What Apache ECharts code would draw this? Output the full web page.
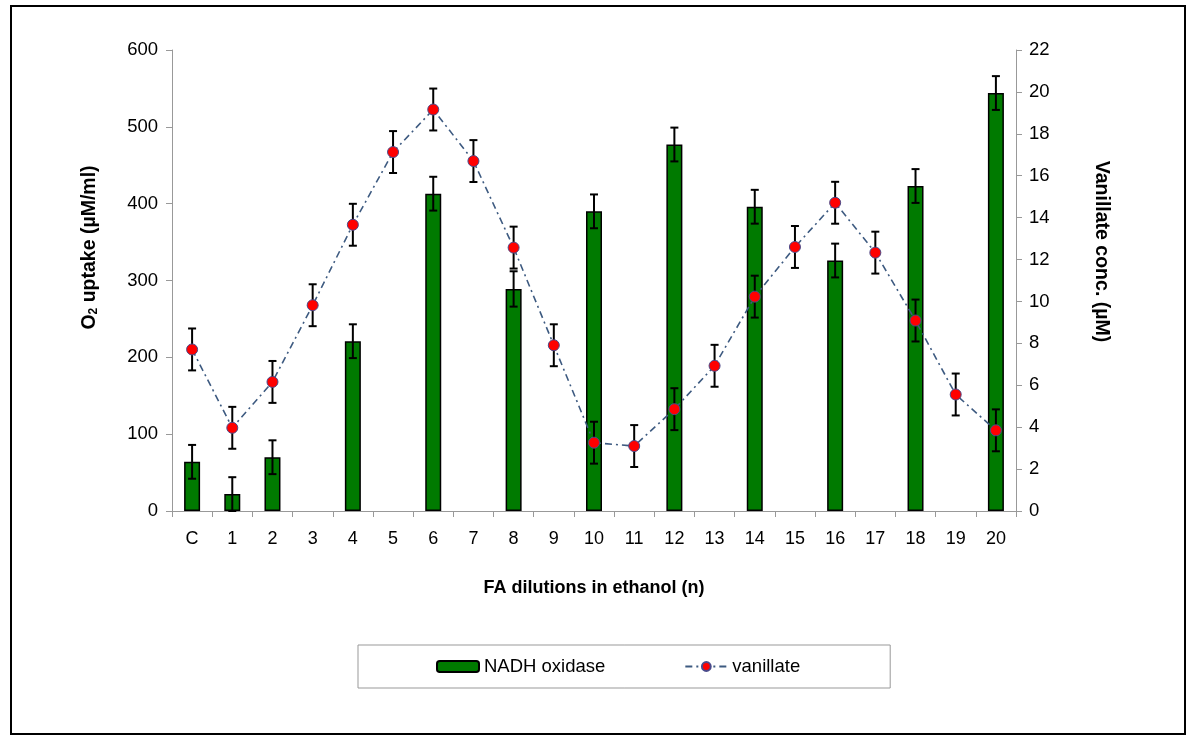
<!DOCTYPE html>
<html>
<head>
<meta charset="utf-8">
<script src="https://cdn.jsdelivr.net/npm/echarts@6/dist/echarts.min.js"></script>
<style>
html,body{margin:0;padding:0;background:#fff;}
#chart{width:1200px;height:751px;}
</style>
</head>
<body>
<div id="chart"></div>
<script>
const categories = ['C','1','2','3','4','5','6','7','8','9','10','11','12','13','14','15','16','17','18','19','20'];
const nadhOxidase = [64, 22, 70, null, 221, null, 413, null, 289, null, 390, null, 477, null, 396, null, 326, null, 423, null, 544];
const nadhErr     = [22, 22, 22, null, 22, null, 22, null, 23, null, 22, null, 22, null, 22, null, 22, null, 22, null, 22];
const vanillate   = [7.71, 3.97, 6.16, 9.82, 13.66, 17.13, 19.16, 16.70, 12.57, 7.91, 3.26, 3.10, 4.86, 6.93, 10.23, 12.60, 14.71, 12.33, 9.09, 5.56, 3.85];
const vanillateErr = [1.0, 1.0, 1.0, 1.0, 1.0, 1.0, 1.0, 1.0, 1.0, 1.0, 1.0, 1.0, 1.0, 1.0, 1.0, 1.0, 1.0, 1.0, 1.0, 1.0, 1.0];
const leftTicks = [0, 100, 200, 300, 400, 500, 600];
const rightTicks = [0, 2, 4, 6, 8, 10, 12, 14, 16, 18, 20, 22];

const chart = echarts.init(document.getElementById('chart'));

function errData(vals, errs) {
  const out = [];
  vals.forEach((v, i) => {
    if (v != null && errs[i] != null) out.push([i, v - errs[i], v + errs[i]]);
  });
  return out;
}

function errRender(params, api) {
  const x = api.value(0);
  const lo = api.coord([x, api.value(1)]);
  const hi = api.coord([x, api.value(2)]);
  const cap = 4;
  const style = { stroke: '#000', lineWidth: 2, fill: null };
  return {
    type: 'group',
    children: [
      { type: 'line', shape: { x1: lo[0], y1: lo[1], x2: hi[0], y2: hi[1] }, style: style },
      { type: 'line', shape: { x1: lo[0] - cap, y1: lo[1], x2: lo[0] + cap, y2: lo[1] }, style: style },
      { type: 'line', shape: { x1: hi[0] - cap, y1: hi[1], x2: hi[0] + cap, y2: hi[1] }, style: style }
    ]
  };
}

const font = "'Liberation Sans', Arial, sans-serif";
const narrow = "'Liberation Sans Narrow', 'Arial Narrow', 'Liberation Sans', Arial, sans-serif";

chart.setOption({
  animation: false,
  backgroundColor: '#fff',
  textStyle: { fontFamily: font },
  graphic: [{
    type: 'rect',
    shape: { x: 11, y: 6, width: 1174, height: 728 },
    style: { fill: null, stroke: '#000', lineWidth: 2 },
    z: -1
  }],
  grid: { left: 172, right: 184, top: 50, bottom: 240 },
  legend: {
    left: 358, top: 645,
    padding: [12, 90, 12, 78],
    borderColor: '#999', borderWidth: 1,
    itemWidth: 42, itemHeight: 11, itemGap: 79,
    textStyle: { fontSize: 18.5, color: '#000', fontFamily: font },
    data: ['NADH oxidase', 'vanillate']
  },
  xAxis: {
    type: 'category',
    data: categories,
    boundaryGap: true,
    name: 'FA dilutions in ethanol (n)',
    nameLocation: 'middle',
    nameGap: 68,
    nameTextStyle: { fontSize: 18, fontWeight: 'bold', color: '#000', fontFamily: narrow },
    axisLine: { lineStyle: { color: '#999', width: 1 } },
    axisTick: { show: true, alignWithLabel: false, length: 6, lineStyle: { color: '#999' } },
    axisLabel: { fontSize: 18, color: '#000', margin: 19, fontFamily: narrow, interval: 0 }
  },
  yAxis: [{
    type: 'value',
    min: 0, max: 600, interval: 100,
    position: 'left',
    name: '{b|O}{s|2}{b| uptake (µM/ml)}',
    nameLocation: 'middle',
    nameRotate: 90,
    nameGap: 72,
    nameTextStyle: {
      padding: [0, 0, 0, 66],
      rich: {
        b: { fontSize: 19.5, fontWeight: 'bold', color: '#000', fontFamily: font },
        s: { fontSize: 12, fontWeight: 'bold', color: '#000', fontFamily: font, verticalAlign: 'bottom', padding: [9, 0, 0, 0] }
      }
    },
    axisLine: { show: true, lineStyle: { color: '#999', width: 1 } },
    axisTick: { show: true, length: 6, lineStyle: { color: '#999' } },
    splitLine: { show: false },
    axisLabel: { fontSize: 18.5, color: '#000', margin: 14 }
  }, {
    type: 'value',
    min: 0, max: 22, interval: 2,
    position: 'right',
    name: 'Vanillate conc. (µM)',
    nameLocation: 'middle',
    nameRotate: -90,
    nameGap: 75,
    nameTextStyle: { fontSize: 19.5, fontWeight: 'bold', color: '#000', padding: [0, 58, 0, 0] },
    axisLine: { show: true, lineStyle: { color: '#999', width: 1 } },
    axisTick: { show: true, length: 6, lineStyle: { color: '#999' } },
    splitLine: { show: false },
    axisLabel: { fontSize: 18.5, color: '#000', margin: 13 }
  }],
  series: [{
    name: 'NADH oxidase',
    type: 'bar',
    yAxisIndex: 0,
    data: nadhOxidase,
    barWidth: 16,
    itemStyle: { color: '#007a00', borderColor: '#000', borderWidth: 1.5 },
    z: 2
  }, {
    name: 'nadhErr',
    type: 'custom',
    yAxisIndex: 0,
    data: errData(nadhOxidase, nadhErr),
    renderItem: errRender,
    encode: { x: 0, y: [1, 2] },
    z: 3
  }, {
    name: 'vanErr',
    type: 'custom',
    yAxisIndex: 1,
    data: errData(vanillate, vanillateErr),
    renderItem: errRender,
    encode: { x: 0, y: [1, 2] },
    z: 4
  }, {
    name: 'vanillate',
    type: 'line',
    yAxisIndex: 1,
    data: vanillate,
    symbol: 'circle',
    symbolSize: 11,
    lineStyle: { color: '#3d5a80', width: 1.6, type: [7, 4, 2, 4] },
    itemStyle: { color: '#ff0000', borderColor: '#4a4a8a', borderWidth: 1 },
    z: 5
  }]
});
</script>
</body>
</html>
